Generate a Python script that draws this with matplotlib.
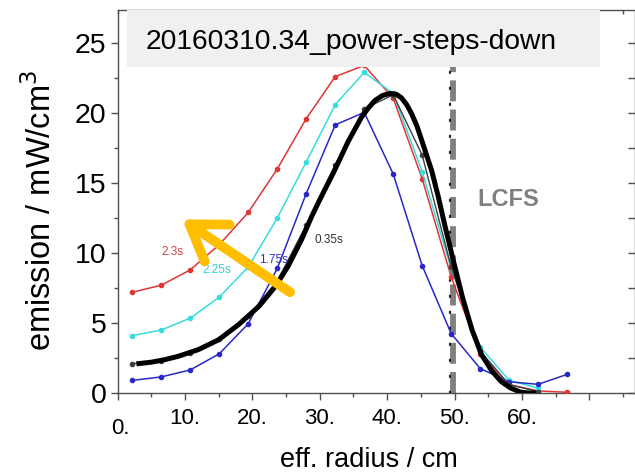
import matplotlib
matplotlib.use("Agg")
import matplotlib.pyplot as plt
from matplotlib.ticker import MultipleLocator, FixedLocator, FixedFormatter

plt.rcParams['font.family'] = ['Liberation Sans', 'DejaVu Sans']

# radial positions of the channels (cm)
radius = [2.2, 6.5, 10.8, 15.1, 19.4, 23.7, 28.0, 32.3, 36.6, 40.9,
          45.2, 49.5, 53.8, 58.1, 62.4, 66.7]

# emission profiles, mW/cm^3
em_230 = [7.2, 7.7, 8.8, 10.6, 12.9, 16.0, 19.6, 22.6, 23.4, 21.05,
          15.3, 8.3, 2.8, 0.6, 0.15, 0.05]
em_225 = [4.1, 4.5, 5.35, 6.85, 9.0, 12.5, 16.5, 20.6, 22.9, 21.4,
          15.8, 8.9, 3.3, 0.9, 0.35]
em_175 = [0.9, 1.15, 1.65, 2.8, 4.95, 8.9, 14.25, 19.15, 20.05, 15.65,
          9.1, 4.25, 1.75, 0.8, 0.62, 1.33]
em_035 = [2.1, 2.3, 2.85, 3.85, 5.5, 8.0, 12.0, 16.3, 20.3, 21.3,
          17.0, 9.0, 3.0, 0.6, 0.1]

# smooth profile fitted to the 0.35s data
fit_r = [2.8, 5.0, 7.0, 9.0, 12.0, 15.0, 18.0, 21.0, 23.4, 25.3, 27.3, 28.8,
         30.0, 32.2, 34.2, 36.2, 37.2, 38.2, 39.3, 40.4, 41.3, 42.1, 42.9,
         43.6, 44.4, 45.1, 46.6, 47.6, 48.6, 49.8, 51.2, 52.6, 54.0, 55.5,
         56.9, 58.3, 59.8, 60.8, 62.1]
fit_e = [2.08, 2.2, 2.38, 2.62, 3.1, 3.8, 4.9, 6.2, 7.6, 9.05, 10.95, 12.6,
         13.8, 15.9, 17.95, 19.7, 20.35, 20.9, 21.25, 21.4, 21.35, 21.1, 20.6,
         19.98, 19.1, 18.1, 15.9, 14.0, 11.9, 9.5, 6.8, 4.5, 2.74, 1.6,
         0.83, 0.36, 0.06, 0.01, 0.0]

lcfs = 49.6
xticks = [0, 10, 20, 30, 40, 50, 60, 70]
xlabels = ["", "10.", "20.", "30.", "40.", "50.", "60.", ""]

fig = plt.figure(figsize=(6.35, 4.76), dpi=100)
ax = fig.add_axes([117.5 / 635, 83 / 476, 517 / 635, 383 / 476])
ax.set_xlim(0, 76.7)
ax.set_ylim(0, 27.36)

ax.plot(radius, em_230, '-o', color='#e03535', lw=1.1, ms=3, zorder=3)
ax.plot(radius[:15], em_225, '-o', color='#38dcdc', lw=1.1, ms=3, zorder=3)
ax.plot(radius, em_175, '-o', color='#2828c8', lw=1.1, ms=3, zorder=3)
ax.plot(radius[:15], em_035, '-o', color='#404040', lw=1.0, ms=3, zorder=3)
ax.plot(fit_r, fit_e, '-', color='black', lw=3.6, zorder=4,
        solid_capstyle='butt')

# last closed flux surface
ax.axvline(lcfs + 0.15, color='#808080', lw=4.2, dashes=(3.6, 1.4), zorder=2)
ax.axvline(lcfs - 0.2, color='#222222', lw=1.6, dashes=(0.6, 6.6),
           dash_capstyle='round', zorder=2)
ax.text(57.9, 13.8, "LCFS", color='#808080', fontsize=17, fontweight='bold',
        ha='center', va='center')

ax.text(8.1, 10.1, "2.3s", color='#d84040', fontsize=8.5, ha='center', va='center')
ax.text(14.8, 8.8, "2.25s", color='#30d0d0', fontsize=8.5, ha='center', va='center')
ax.text(23.2, 9.5, "1.75s", color='#3030c0', fontsize=8.5, ha='center', va='center')
ax.text(31.4, 10.9, "0.35s", color='#333333', fontsize=8.5, ha='center', va='center')

ax.annotate('', xy=(9.6, 12.4), xytext=(25.6, 7.2),
            arrowprops=dict(arrowstyle='->,head_length=2.4,head_width=1.6',
                            color='#ffbf00', lw=7, mutation_scale=10,
                            shrinkA=0, shrinkB=0),
            zorder=6)

# shot label box
ax.add_patch(plt.Rectangle((0.018, 0.851), 0.915, 0.149, transform=ax.transAxes,
                           facecolor='#f0f0f0', edgecolor='none', zorder=7))
ax.text(0.452, 0.916, "20160310.34_power-steps-down", transform=ax.transAxes,
        fontsize=20.3, ha='center', va='center', zorder=8)

ax.xaxis.set_major_locator(FixedLocator(xticks))
ax.xaxis.set_major_formatter(FixedFormatter(xlabels))
ax.xaxis.set_minor_locator(MultipleLocator(5))
ax.yaxis.set_major_locator(MultipleLocator(5))
ax.yaxis.set_minor_locator(MultipleLocator(2.5))

for side in ['left', 'right', 'top', 'bottom']:
    ax.spines[side].set_color('#505050')
    ax.spines[side].set_linewidth(1.0)

ax.tick_params(axis='x', which='major', direction='out', length=5, width=1,
               color='#505050', labelsize=16, pad=5.5)
ax.tick_params(axis='x', which='minor', direction='out', length=3, width=1,
               color='#505050')
ax.tick_params(axis='y', which='major', direction='out', length=5, width=1,
               color='#505050', labelsize=20.5, pad=3)
ax.tick_params(axis='y', which='minor', direction='out', length=3, width=1,
               color='#505050')

# inward ticks on top and right side
ax.tick_params(which='both', top=True, right=True)
for tk in ax.xaxis.get_major_ticks() + ax.xaxis.get_minor_ticks():
    tk.tick2line.set_marker(3)
    tk.tick2line.set_markersize(3)
for tk in ax.yaxis.get_major_ticks() + ax.yaxis.get_minor_ticks():
    tk.tick2line.set_marker(0)
    tk.tick2line.set_markersize(5)

# the origin label sits a little lower than the others
ax.text(0.005, -0.092, "0.", transform=ax.transAxes, fontsize=16,
        ha='center', va='center')

ax.set_xlabel("eff. radius / cm", fontsize=19.5)
ax.xaxis.set_label_coords(0.486, -0.14)
ax.set_ylabel("emission / mW/cm$^3$", fontsize=23.5)
ax.yaxis.set_label_coords(-0.115, 0.478)

fig.savefig("out.png", dpi=100)
